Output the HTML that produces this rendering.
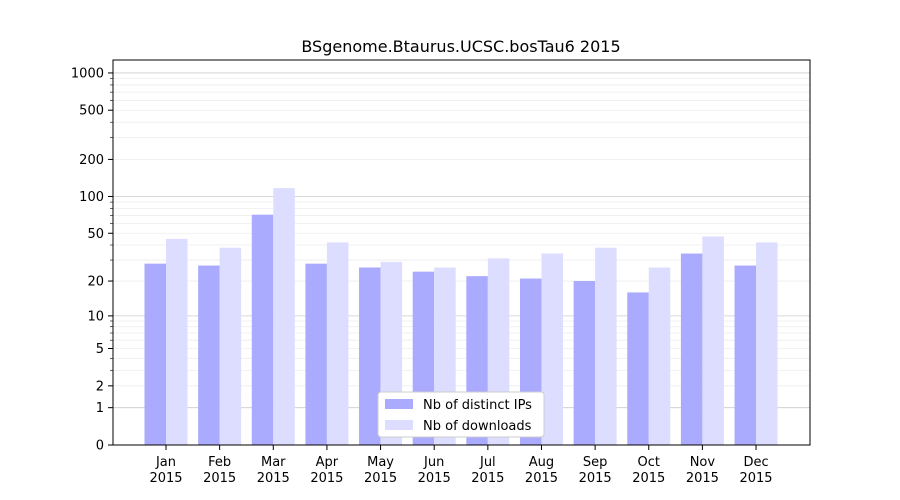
<!DOCTYPE html>
<html><head><meta charset="utf-8"><style>body{margin:0;background:#fff}svg{display:block}text{font-family:"DejaVu Sans","Liberation Sans",sans-serif;fill:#000}</style></head>
<body>
<svg width="900" height="500" viewBox="0 0 900 500" xmlns="http://www.w3.org/2000/svg">
<g id="grid"></g>
<g id="bars"></g>
<rect x="113" y="60" width="697" height="385" fill="none" stroke="#000" stroke-width="1"/>
<g id="ticks" font-size="13"></g>
<text x="461" y="52" font-size="16" text-anchor="middle">BSgenome.Btaurus.UCSC.bosTau6 2015</text>
<g>
<rect x="378" y="392" width="166" height="45" fill="#fff" stroke="#ccc" rx="3"/>
<rect x="385" y="399" width="28" height="10" fill="#aaaaff"/>
<text x="423" y="409" font-size="13">Nb of distinct IPs</text>
<rect x="385" y="420" width="28" height="10" fill="#ddddff"/>
<text x="423" y="430" font-size="13">Nb of downloads</text>
</g>
<script>
var ns="http://www.w3.org/2000/svg";
function Y(v){return 445-124*Math.log10(1+v);}
function el(p,t,a,txt){var e=document.createElementNS(ns,t);for(var k in a)e.setAttribute(k,a[k]);if(txt!=null)e.textContent=txt;document.getElementById(p).appendChild(e);return e;}
// grid
var minors=[];
[1,10,100].forEach(function(d){for(var i=2;i<=9;i++)minors.push(i*d);});
minors.push(2000);
minors.forEach(function(v){var y=Y(v);if(y<60)return;el("grid","line",{x1:113,x2:810,y1:y,y2:y,stroke:"#eee","stroke-width":0.8});el("ticks","line",{x1:110,x2:113,y1:y,y2:y,stroke:"#000","stroke-width":0.6});});
[1,10,100,1000].forEach(function(v){var y=Y(v);el("grid","line",{x1:113,x2:810,y1:y,y2:y,stroke:"#ccc","stroke-width":0.8});});
[0,1,2,5,10,20,50,100,200,500,1000].forEach(function(v){var y=Y(v);el("ticks","line",{x1:108,x2:113,y1:y,y2:y,stroke:"#000"});el("ticks","text",{x:104,y:y+4.5,"text-anchor":"end"},v);});
var m=["Jan","Feb","Mar","Apr","May","Jun","Jul","Aug","Sep","Oct","Nov","Dec"];
var ip=[28,27,71,28,26,24,22,21,20,16,34,27];
var dl=[45,38,117,42,29,26,31,34,38,26,47,42];
for(var i=0;i<12;i++){var c=166+i*53.64;
el("bars","rect",{x:c-21.5,y:Y(ip[i]),width:21.5,height:445-Y(ip[i]),fill:"#aaaaff"});
el("bars","rect",{x:c,y:Y(dl[i]),width:21.5,height:445-Y(dl[i]),fill:"#ddddff"});
el("ticks","line",{x1:c,x2:c,y1:445,y2:450,stroke:"#000"});
el("ticks","text",{x:c,y:466,"text-anchor":"middle"},m[i]);
el("ticks","text",{x:c,y:482,"text-anchor":"middle"},"2015");}
</script>
</svg>
</body></html>
